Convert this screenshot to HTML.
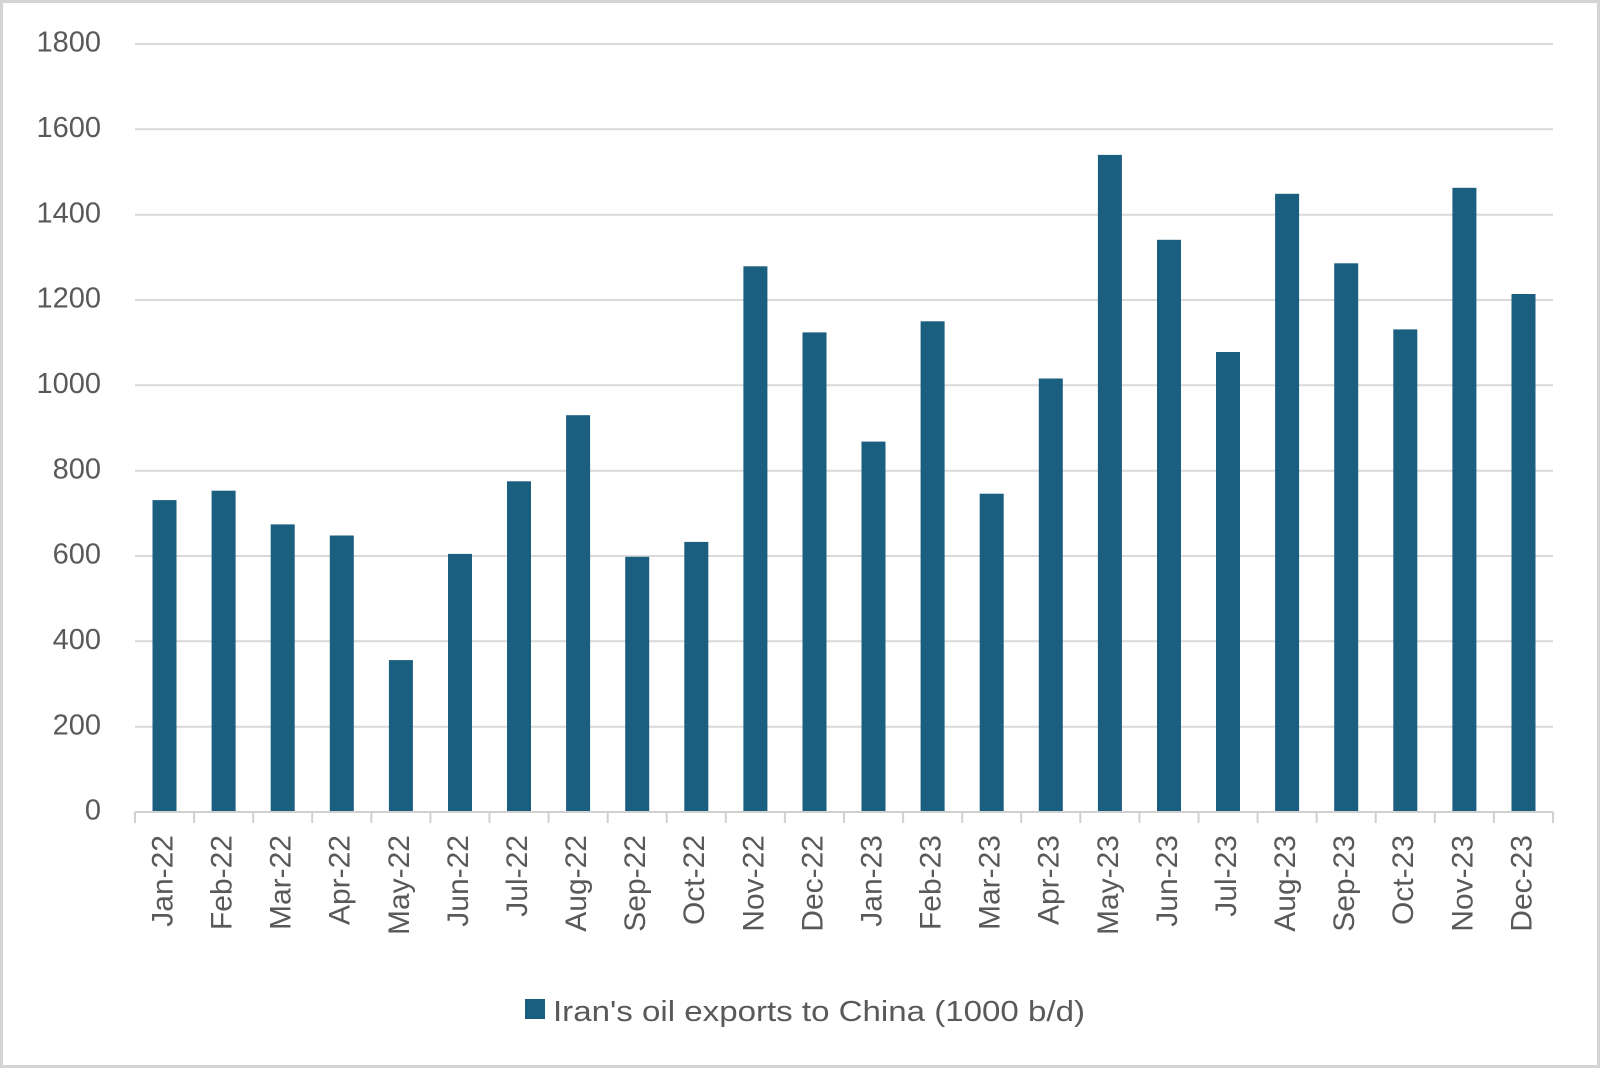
<!DOCTYPE html>
<html><head><style>
html,body{margin:0;padding:0;background:#fff}
svg{display:block}
text{font-family:"Liberation Sans",sans-serif;fill:#595959}
</style></head><body>
<svg width="1600" height="1068" viewBox="0 0 1600 1068" xmlns="http://www.w3.org/2000/svg">
<rect x="1.5" y="1.5" width="1597" height="1065" fill="#fff" stroke="#d4d4d4" stroke-width="3"/>
<g stroke="#d9d9d9" stroke-width="2">
<line x1="135" x2="1553" y1="44" y2="44"/><line x1="135" x2="1553" y1="129.3" y2="129.3"/>
<line x1="135" x2="1553" y1="214.7" y2="214.7"/><line x1="135" x2="1553" y1="300" y2="300"/>
<line x1="135" x2="1553" y1="385.3" y2="385.3"/><line x1="135" x2="1553" y1="470.7" y2="470.7"/>
<line x1="135" x2="1553" y1="556" y2="556"/><line x1="135" x2="1553" y1="641.3" y2="641.3"/>
<line x1="135" x2="1553" y1="726.7" y2="726.7"/>
</g>
<g font-size="29" text-anchor="end" dominant-baseline="middle">
<text x="101" y="44">1800</text><text x="101" y="129.3">1600</text><text x="101" y="214.7">1400</text>
<text x="101" y="300">1200</text><text x="101" y="385.3">1000</text><text x="101" y="470.7">800</text>
<text x="101" y="556">600</text><text x="101" y="641.3">400</text><text x="101" y="726.7">200</text>
<text x="101" y="812">0</text>
</g>
<g fill="#1a5e80">
<rect x="152.5" y="500.1" width="24" height="311.9"/>
<rect x="211.6" y="490.7" width="24" height="321.3"/>
<rect x="270.7" y="524.4" width="24" height="287.6"/>
<rect x="329.8" y="535.5" width="24" height="276.5"/>
<rect x="388.9" y="660.1" width="24" height="151.9"/>
<rect x="448" y="553.9" width="24" height="258.1"/>
<rect x="507" y="481.3" width="24" height="330.7"/>
<rect x="566.1" y="415.2" width="24" height="396.8"/>
<rect x="625.2" y="556.8" width="24" height="255.2"/>
<rect x="684.3" y="541.9" width="24" height="270.1"/>
<rect x="743.4" y="266.3" width="24" height="545.7"/>
<rect x="802.5" y="332.4" width="24" height="479.6"/>
<rect x="861.5" y="441.6" width="24" height="370.4"/>
<rect x="920.6" y="321.3" width="24" height="490.7"/>
<rect x="979.7" y="493.7" width="24" height="318.3"/>
<rect x="1038.8" y="378.5" width="24" height="433.5"/>
<rect x="1097.9" y="154.9" width="24" height="657.1"/>
<rect x="1157" y="239.8" width="24" height="572.2"/>
<rect x="1216" y="352" width="24" height="460"/>
<rect x="1275.1" y="193.8" width="24" height="618.2"/>
<rect x="1334.2" y="263.3" width="24" height="548.7"/>
<rect x="1393.3" y="329.4" width="24" height="482.6"/>
<rect x="1452.4" y="187.8" width="24" height="624.2"/>
<rect x="1511.5" y="294" width="24" height="518"/>
</g>
<g stroke="#d0d0d0" stroke-width="2">
<line x1="135" x2="1553" y1="812" y2="812"/>
<line x1="135" x2="135" y1="812" y2="823"/><line x1="194.1" x2="194.1" y1="812" y2="823"/>
<line x1="253.2" x2="253.2" y1="812" y2="823"/><line x1="312.2" x2="312.2" y1="812" y2="823"/>
<line x1="371.3" x2="371.3" y1="812" y2="823"/><line x1="430.4" x2="430.4" y1="812" y2="823"/>
<line x1="489.5" x2="489.5" y1="812" y2="823"/><line x1="548.6" x2="548.6" y1="812" y2="823"/>
<line x1="607.7" x2="607.7" y1="812" y2="823"/><line x1="666.7" x2="666.7" y1="812" y2="823"/>
<line x1="725.8" x2="725.8" y1="812" y2="823"/><line x1="784.9" x2="784.9" y1="812" y2="823"/>
<line x1="844" x2="844" y1="812" y2="823"/><line x1="903.1" x2="903.1" y1="812" y2="823"/>
<line x1="962.2" x2="962.2" y1="812" y2="823"/><line x1="1021.2" x2="1021.2" y1="812" y2="823"/>
<line x1="1080.3" x2="1080.3" y1="812" y2="823"/><line x1="1139.4" x2="1139.4" y1="812" y2="823"/>
<line x1="1198.5" x2="1198.5" y1="812" y2="823"/><line x1="1257.6" x2="1257.6" y1="812" y2="823"/>
<line x1="1316.7" x2="1316.7" y1="812" y2="823"/><line x1="1375.7" x2="1375.7" y1="812" y2="823"/>
<line x1="1434.8" x2="1434.8" y1="812" y2="823"/><line x1="1493.9" x2="1493.9" y1="812" y2="823"/>
<line x1="1553" x2="1553" y1="812" y2="823"/>
</g>
<g font-size="30" text-anchor="end" dominant-baseline="middle">
<text transform="translate(164.5,835) rotate(-90)">Jan-22</text>
<text transform="translate(223.6,835) rotate(-90)">Feb-22</text>
<text transform="translate(282.7,835) rotate(-90)">Mar-22</text>
<text transform="translate(341.8,835) rotate(-90)">Apr-22</text>
<text transform="translate(400.9,835) rotate(-90)">May-22</text>
<text transform="translate(460,835) rotate(-90)">Jun-22</text>
<text transform="translate(519,835) rotate(-90)">Jul-22</text>
<text transform="translate(578.1,835) rotate(-90)">Aug-22</text>
<text transform="translate(637.2,835) rotate(-90)">Sep-22</text>
<text transform="translate(696.3,835) rotate(-90)">Oct-22</text>
<text transform="translate(755.4,835) rotate(-90)">Nov-22</text>
<text transform="translate(814.5,835) rotate(-90)">Dec-22</text>
<text transform="translate(873.5,835) rotate(-90)">Jan-23</text>
<text transform="translate(932.6,835) rotate(-90)">Feb-23</text>
<text transform="translate(991.7,835) rotate(-90)">Mar-23</text>
<text transform="translate(1050.8,835) rotate(-90)">Apr-23</text>
<text transform="translate(1109.9,835) rotate(-90)">May-23</text>
<text transform="translate(1169,835) rotate(-90)">Jun-23</text>
<text transform="translate(1228,835) rotate(-90)">Jul-23</text>
<text transform="translate(1287.1,835) rotate(-90)">Aug-23</text>
<text transform="translate(1346.2,835) rotate(-90)">Sep-23</text>
<text transform="translate(1405.3,835) rotate(-90)">Oct-23</text>
<text transform="translate(1464.4,835) rotate(-90)">Nov-23</text>
<text transform="translate(1523.5,835) rotate(-90)">Dec-23</text>
</g>
<rect x="525" y="999" width="20" height="20" fill="#1a5e80"/>
<text x="553" y="1021" font-size="29" textLength="532" lengthAdjust="spacingAndGlyphs">Iran's oil exports to China (1000 b/d)</text>
</svg>
</body></html>
